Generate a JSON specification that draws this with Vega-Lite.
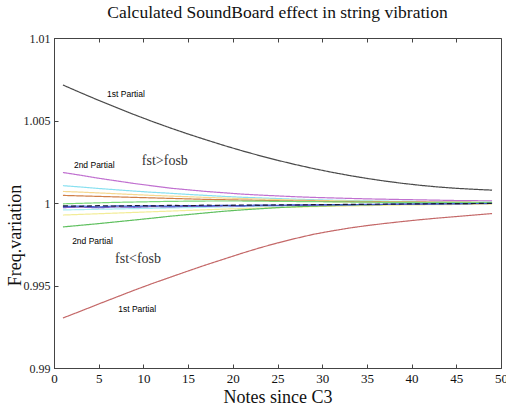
{
  "$schema": "https://vega.github.io/schema/vega-lite/v6.json",
  "width": 447,
  "height": 330,
  "autosize": {"type": "none"},
  "padding": {"left": 54, "top": 38, "right": 5, "bottom": 40},
  "background": "white",
  "title": {"text": "Calculated SoundBoard effect in string vibration", "font": "Liberation Serif", "fontSize": 17.5, "fontWeight": "normal", "color": "#111", "anchor": "middle", "offset": 11},
  "config": {
    "view": {"stroke": "#444", "strokeWidth": 1},
    "axis": {"labelFont": "Liberation Serif", "labelFontSize": 12, "labelColor": "#222", "titleFont": "Liberation Serif", "titleFontSize": 18, "titleFontWeight": "normal", "titleColor": "#222", "domainColor": "#444", "tickColor": "#444", "grid": false}
  },
  "resolve": {"axis": {"x": "independent"}},
  "layer": [
    {
      "data": {"values": [
        {"n":1,"g":1.00715,"r":0.99303,"v":1.00185,"c":1.00105,"y":1.00070,"o":1.00046,"gm":0.99995,"b":0.99978,"k":0.99983,"p":0.99972,"cl":0.99958,"yl":0.99927,"gl":0.99855},
        {"n":3,"g":1.00668,"r":0.99345,"v":1.00168,"c":1.00097,"y":1.00066,"o":1.00043,"gm":0.99998,"b":0.99982,"k":0.99980,"p":0.99975,"cl":0.99960,"yl":0.99931,"gl":0.99865},
        {"n":5,"g":1.00622,"r":0.99388,"v":1.00150,"c":1.00088,"y":1.00061,"o":1.00040,"gm":1.00001,"b":0.99976,"k":0.99984,"p":0.99971,"cl":0.99962,"yl":0.99935,"gl":0.99875},
        {"n":7,"g":1.00578,"r":0.99430,"v":1.00134,"c":1.00080,"y":1.00056,"o":1.00037,"gm":1.00004,"b":0.99983,"k":0.99981,"p":0.99976,"cl":0.99964,"yl":0.99939,"gl":0.99886},
        {"n":9,"g":1.00535,"r":0.99472,"v":1.00118,"c":1.00072,"y":1.00051,"o":1.00034,"gm":1.00006,"b":0.99979,"k":0.99985,"p":0.99974,"cl":0.99966,"yl":0.99943,"gl":0.99897},
        {"n":11,"g":1.00494,"r":0.99512,"v":1.00104,"c":1.00065,"y":1.00046,"o":1.00031,"gm":1.00008,"b":0.99984,"k":0.99982,"p":0.99978,"cl":0.99968,"yl":0.99947,"gl":0.99908},
        {"n":13,"g":1.00455,"r":0.99550,"v":1.00090,"c":1.00059,"y":1.00042,"o":1.00028,"gm":1.00010,"b":0.99980,"k":0.99986,"p":0.99976,"cl":0.99970,"yl":0.99951,"gl":0.99920},
        {"n":15,"g":1.00418,"r":0.99588,"v":1.00080,"c":1.00052,"y":1.00038,"o":1.00025,"gm":1.00011,"b":0.99985,"k":0.99983,"p":0.99980,"cl":0.99972,"yl":0.99955,"gl":0.99930},
        {"n":17,"g":1.00383,"r":0.99625,"v":1.00070,"c":1.00046,"y":1.00034,"o":1.00022,"gm":1.00012,"b":0.99982,"k":0.99987,"p":0.99979,"cl":0.99974,"yl":0.99959,"gl":0.99940},
        {"n":19,"g":1.00349,"r":0.99660,"v":1.00062,"c":1.00040,"y":1.00030,"o":1.00020,"gm":1.00012,"b":0.99986,"k":0.99985,"p":0.99982,"cl":0.99976,"yl":0.99963,"gl":0.99950},
        {"n":21,"g":1.00317,"r":0.99695,"v":1.00054,"c":1.00035,"y":1.00027,"o":1.00018,"gm":1.00012,"b":0.99984,"k":0.99988,"p":0.99981,"cl":0.99978,"yl":0.99966,"gl":0.99958},
        {"n":23,"g":1.00287,"r":0.99728,"v":1.00048,"c":1.00031,"y":1.00024,"o":1.00016,"gm":1.00011,"b":0.99988,"k":0.99986,"p":0.99984,"cl":0.99980,"yl":0.99969,"gl":0.99965},
        {"n":25,"g":1.00259,"r":0.99758,"v":1.00043,"c":1.00027,"y":1.00021,"o":1.00014,"gm":1.00010,"b":0.99986,"k":0.99989,"p":0.99984,"cl":0.99982,"yl":0.99972,"gl":0.99972},
        {"n":27,"g":1.00233,"r":0.99785,"v":1.00038,"c":1.00023,"y":1.00018,"o":1.00012,"gm":1.00009,"b":0.99989,"k":0.99988,"p":0.99986,"cl":0.99984,"yl":0.99975,"gl":0.99977},
        {"n":29,"g":1.00209,"r":0.99810,"v":1.00034,"c":1.00020,"y":1.00016,"o":1.00011,"gm":1.00008,"b":0.99988,"k":0.99990,"p":0.99986,"cl":0.99986,"yl":0.99978,"gl":0.99981},
        {"n":31,"g":1.00187,"r":0.99830,"v":1.00031,"c":1.00017,"y":1.00014,"o":1.00009,"gm":1.00007,"b":0.99991,"k":0.99990,"p":0.99988,"cl":0.99988,"yl":0.99980,"gl":0.99984},
        {"n":33,"g":1.00167,"r":0.99848,"v":1.00028,"c":1.00015,"y":1.00012,"o":1.00008,"gm":1.00006,"b":0.99990,"k":0.99992,"p":0.99989,"cl":0.99989,"yl":0.99982,"gl":0.99987},
        {"n":35,"g":1.00149,"r":0.99863,"v":1.00025,"c":1.00013,"y":1.00010,"o":1.00007,"gm":1.00005,"b":0.99992,"k":0.99992,"p":0.99990,"cl":0.99990,"yl":0.99984,"gl":0.99989},
        {"n":37,"g":1.00133,"r":0.99876,"v":1.00023,"c":1.00011,"y":1.00009,"o":1.00006,"gm":1.00004,"b":0.99992,"k":0.99993,"p":0.99991,"cl":0.99991,"yl":0.99986,"gl":0.99991},
        {"n":39,"g":1.00119,"r":0.99888,"v":1.00021,"c":1.00010,"y":1.00008,"o":1.00005,"gm":1.00004,"b":0.99994,"k":0.99994,"p":0.99992,"cl":0.99992,"yl":0.99988,"gl":0.99993},
        {"n":41,"g":1.00107,"r":0.99899,"v":1.00019,"c":1.00009,"y":1.00007,"o":1.00005,"gm":1.00003,"b":0.99994,"k":0.99995,"p":0.99993,"cl":0.99993,"yl":0.99989,"gl":0.99994},
        {"n":43,"g":1.00097,"r":0.99909,"v":1.00017,"c":1.00008,"y":1.00006,"o":1.00004,"gm":1.00003,"b":0.99995,"k":0.99996,"p":0.99994,"cl":0.99994,"yl":0.99990,"gl":0.99995},
        {"n":45,"g":1.00089,"r":0.99918,"v":1.00015,"c":1.00007,"y":1.00005,"o":1.00004,"gm":1.00002,"b":0.99996,"k":0.99996,"p":0.99995,"cl":0.99995,"yl":0.99991,"gl":0.99996},
        {"n":47,"g":1.00083,"r":0.99927,"v":1.00014,"c":1.00006,"y":1.00005,"o":1.00003,"gm":1.00002,"b":0.99997,"k":0.99997,"p":0.99996,"cl":0.99996,"yl":0.99992,"gl":0.99997},
        {"n":49,"g":1.00078,"r":0.99936,"v":1.00013,"c":1.00006,"y":1.00004,"o":1.00003,"gm":1.00002,"b":0.99997,"k":0.99998,"p":0.99997,"cl":0.99996,"yl":0.99993,"gl":0.99997}
      ]},
      "transform": [{"fold": ["g","r","v","c","y","o","cl","yl","gl","gm","p","b","k"], "as": ["series","val"]}],
      "mark": {"type": "line", "strokeWidth": 1.2},
      "encoding": {
        "x": {"field": "n", "type": "quantitative", "scale": {"domain": [0, 50], "nice": false, "zero": false},
              "axis": {"values": [0,5,10,15,20,25,30,35,40,45,50], "title": "Notes since C3", "labelFont": "Liberation Serif", "labelFontSize": 13, "labelColor": "#111", "titleFont": "Liberation Serif", "titleFontSize": 18, "titleFontWeight": "normal", "titleColor": "#111", "tickSize": -4, "labelPadding": 8, "titlePadding": 3, "labelFlush": false}},
        "y": {"field": "val", "type": "quantitative", "scale": {"domain": [0.99, 1.01], "nice": false, "zero": false},
              "axis": {"values": [0.99,0.995,1,1.005,1.01], "format": "~g", "title": "Freq.variation", "labelFont": "Liberation Serif", "labelFontSize": 12, "labelColor": "#222", "titleFont": "Liberation Serif", "titleFontSize": 18, "titleFontWeight": "normal", "titleColor": "#111", "tickSize": -4, "labelPadding": 8, "titleX": -39, "titleY": 197, "titleBaseline": "middle", "titleAlign": "center"}},
        "color": {"field": "series", "type": "nominal", "legend": null,
                  "scale": {"domain": ["g","r","v","c","y","o","cl","yl","gl","gm","p","b","k"],
                            "range": ["#4a4a4a","#c46868","#c070d0","#88e0f0","#f5d890","#d08048","#a8ecf4","#f2ec98","#60c060","#78d878","#8060c8","#4060d0","#1a1a3a"]}},
        "strokeDash": {"condition": {"test": "datum.series === 'k'", "value": [5, 3]}, "value": [1, 0]}
      }
    },
    {
      "data": {"values": [{"n": 0}, {"n": 50}]},
      "mark": {"type": "rule", "opacity": 0},
      "encoding": {
        "x": {"field": "n", "type": "quantitative", "scale": {"domain": [0, 50], "nice": false},
              "axis": {"orient": "top", "values": [0,5,10,15,20,25,30,35,40,45,50], "labels": false, "title": null, "tickSize": -4, "domain": false}}
      }
    },
    {
      "data": {"values": [
        {"n": 8.05, "val": 1.0066, "t": "1st Partial"},
        {"n": 4.5, "val": 1.0023, "t": "2nd Partial"},
        {"n": 4.3, "val": 0.9977, "t": "2nd Partial"},
        {"n": 9.3, "val": 0.99358, "t": "1st Partial"}
      ]},
      "mark": {"type": "text", "font": "Liberation Sans", "fontSize": 8.5, "color": "#000", "align": "center", "baseline": "middle"},
      "encoding": {
        "x": {"field": "n", "type": "quantitative", "axis": null},
        "y": {"field": "val", "type": "quantitative"},
        "text": {"field": "t"}
      }
    },
    {
      "data": {"values": [
        {"n": 12.4, "val": 1.00255, "t": "fst>fosb"},
        {"n": 9.4, "val": 0.99661, "t": "fst<fosb"}
      ]},
      "mark": {"type": "text", "font": "Liberation Serif", "fontSize": 14, "color": "#333", "align": "center", "baseline": "middle"},
      "encoding": {
        "x": {"field": "n", "type": "quantitative", "axis": null},
        "y": {"field": "val", "type": "quantitative"},
        "text": {"field": "t"}
      }
    }
  ]
}
